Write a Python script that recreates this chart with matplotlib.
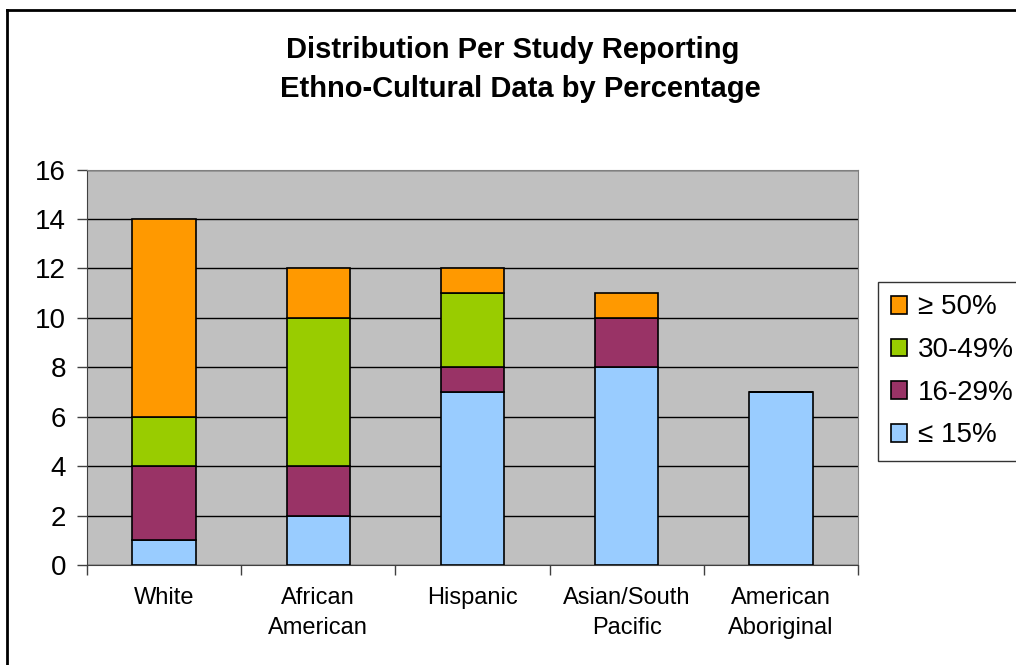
import numpy as np
import matplotlib
matplotlib.use('Agg')
import matplotlib.pyplot as plt
from matplotlib.lines import Line2D

matplotlib.rcParams['font.family'] = ['Liberation Sans', 'DejaVu Sans']

# data
categories = ['White', 'African\nAmerican', 'Hispanic', 'Asian/South\nPacific', 'American\nAboriginal']
le15 = [1, 2, 7, 8, 7]
p16_29 = [3, 2, 1, 2, 0]
p30_49 = [2, 6, 3, 0, 0]
ge50 = [8, 2, 1, 1, 0]

series = [
    ('≤ 15%', le15, '#99CCFF'),
    ('16-29%', p16_29, '#993366'),
    ('30-49%', p30_49, '#99CC00'),
    ('≥ 50%', ge50, '#FF9900'),
]

W, H = 1016, 665
fig = plt.figure(figsize=(W / 100, H / 100), dpi=100)
ax = fig.add_axes([87 / W, 1 - 565 / H, (858 - 87) / W, (565 - 169.5) / H])
ax.set_facecolor('#C0C0C0')

x = np.arange(len(categories))
bottom = np.zeros(len(categories))
handles = []
for label, vals, color in series:
    vals = np.array(vals, dtype=float)
    b = ax.bar(x, vals, width=0.41, bottom=bottom, color=color,
               edgecolor='black', linewidth=1.2, label=label, zorder=3)
    handles.append(b)
    bottom += vals

ax.set_xlim(-0.5, len(categories) - 0.5)
ax.set_ylim(0, 16)
ax.set_yticks(range(0, 17, 2))
ax.yaxis.grid(True, color='black', linewidth=1, zorder=1)
ax.set_axisbelow(True)

ax.set_xticks(x)
ax.set_xticklabels(categories, fontsize=17, linespacing=1.45)
ax.set_xticks(np.arange(-0.5, len(categories)), minor=True)
ax.tick_params(axis='x', which='major', length=0, pad=16)
ax.tick_params(axis='x', which='minor', length=7, width=1, color='#404040')
ax.tick_params(axis='y', length=7, width=1, color='#404040', labelsize=20, pad=8)

for s in ['left', 'bottom']:
    ax.spines[s].set_color('#404040')
for s in ['top', 'right']:
    ax.spines[s].set_color('#808080')

fig.text(513 / W, 1 - 50 / H, 'Distribution Per Study Reporting', ha='center', va='center',
         fontsize=21, fontweight='bold')
fig.text(520 / W, 1 - 89 / H, 'Ethno-Cultural Data by Percentage', ha='center', va='center',
         fontsize=21, fontweight='bold')

leg = fig.legend(handles[::-1], [s[0] for s in series][::-1],
                 loc='upper left', bbox_to_anchor=(878 / W, 1 - 282 / H),
                 fontsize=20, frameon=True, fancybox=False, shadow=False,
                 handlelength=0.6, handleheight=0.6, handletextpad=0.4,
                 labelspacing=0.6, borderpad=0.45, borderaxespad=0)
leg.get_frame().set_edgecolor('black')
leg.get_frame().set_linewidth(1)

# outer chart border
fig.add_artist(Line2D([7 / W, 1], [1 - 10 / H, 1 - 10 / H], color='black', linewidth=2, transform=fig.transFigure))
fig.add_artist(Line2D([7 / W, 7 / W], [0, 1 - 10 / H], color='black', linewidth=2, transform=fig.transFigure))

fig.savefig('out.png', dpi=100)
